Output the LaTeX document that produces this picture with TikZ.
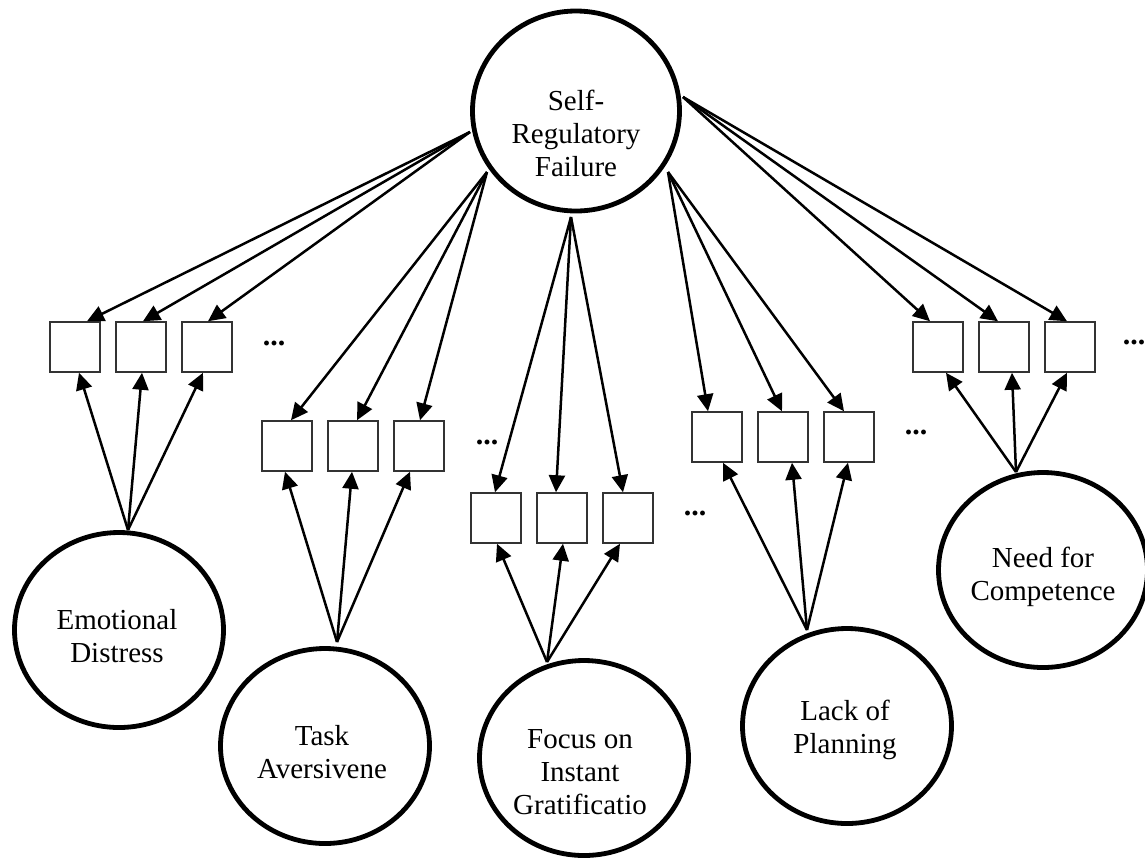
\documentclass[tikz,border=0pt]{standalone}
\usepackage{fontspec}
\setmainfont{Liberation Serif}
\usetikzlibrary{arrows.meta,shapes.geometric,calc}
\begin{document}
\begin{tikzpicture}[x=0.5pt,y=-0.5pt,
  latent/.style={draw, ellipse, line width=2.4pt, inner sep=0pt, minimum width=104.5pt, minimum height=97.5pt},
  indic/.style={draw=black!80, line width=0.75pt, minimum width=25pt, minimum height=25pt, inner sep=0pt, fill=white},
  lbl/.style={align=center, font=\fontsize{14.5pt}{16.5pt}\selectfont, inner sep=0pt},
  more/.style={font=\fontsize{15pt}{15pt}\selectfont\bfseries, inner sep=0pt},
  load/.style={-{Triangle[length=8.5pt,width=8pt]}, line width=1.25pt}
]
\useasboundingbox (0,0) rectangle (1145,858);

% latent variables
\node[latent, minimum width=103.5pt, minimum height=100pt] (srf) at (576,111) {};
\node[lbl] (srft) at (576,133) {Self-\\Regulatory\\Failure};

\node[latent] (emo) at (119,630) {};
\node[lbl] (emot) at (117,636) {Emotional\\Distress};

\node[latent] (task) at (325,746) {};
\node[lbl] (taskt) at (322,752) {Task\\Aversivene};

\node[latent] (foc) at (584,758) {};
\node[lbl] (foct) at (580,772) {Focus on\\Instant\\Gratificatio};

\node[latent] (lack) at (847,726) {};
\node[lbl] (lackt) at (845,730) {Lack of\\Planning};

\node[latent] (need) at (1043,570) {};
\node[lbl] (needt) at (1043,577) {Need for\\Competence};

% indicators
\node[indic] (e1) at (75,347) {};
\node[indic] (e2) at (141,347) {};
\node[indic] (e3) at (207,347) {};
\node[more] (ed) at (274,343) {...};

\node[indic] (t1) at (287,446) {};
\node[indic] (t2) at (353,446) {};
\node[indic] (t3) at (419,446) {};
\node[more] (td) at (487,442) {...};

\node[indic] (f1) at (496,518) {};
\node[indic] (f2) at (562,518) {};
\node[indic] (f3) at (628,518) {};
\node[more] (fd) at (695,513) {...};

\node[indic] (l1) at (717,437) {};
\node[indic] (l2) at (783,437) {};
\node[indic] (l3) at (849,437) {};
\node[more] (ld) at (916,432) {...};

\node[indic] (n1) at (938,347) {};
\node[indic] (n2) at (1004,347) {};
\node[indic] (n3) at (1070,347) {};
\node[more] (nd) at (1134,342) {...};

% source points on the higher-order factor
\coordinate (sE) at (470,132);
\coordinate (sT) at (487,172);
\coordinate (sF) at (571,217);
\coordinate (sL) at (668,172);
\coordinate (sN) at (683,97);

% source points on the first-order factors
\coordinate (pE) at (128,530);
\coordinate (pT) at (337,642);
\coordinate (pF) at (547,662);
\coordinate (pL) at (807,630);
\coordinate (pN) at (1016,472);

% loadings of the higher-order factor
\foreach \b/\dx in {e1/12,e2/2,e3/1} \draw[load] (sE) -- ($(\b.north)+(\dx,0)$);
\foreach \b/\dx in {t1/4,t2/4,t3/1} \draw[load] (sT) -- ($(\b.north)+(\dx,0)$);
\foreach \b/\dx in {f1/-1,f2/-6,f3/-5} \draw[load] (sF) -- ($(\b.north)+(\dx,0)$);
\foreach \b/\dx in {l1/-9,l2/-1,l3/-5} \draw[load] (sL) -- ($(\b.north)+(\dx,0)$);
\foreach \b/\dx in {n1/-8,n2/-6,n3/-3} \draw[load] (sN) -- ($(\b.north)+(\dx,0)$);

% loadings of the first-order factors
\foreach \b/\dx in {e1/4,e2/1,e3/-4} \draw[load] (pE) -- ($(\b.south)+(\dx,0)$);
\foreach \b/\dx in {t1/-2,t2/-1,t3/-9} \draw[load] (pT) -- ($(\b.south)+(\dx,0)$);
\foreach \b/\dx in {f1/1,f2/1,f3/-8} \draw[load] (pF) -- ($(\b.south)+(\dx,0)$);
\foreach \b/\dx in {l1/6,l2/9,l3/-1} \draw[load] (pL) -- ($(\b.south)+(\dx,0)$);
\foreach \b/\dx in {n1/8,n2/8,n3/-3} \draw[load] (pN) -- ($(\b.south)+(\dx,0)$);
\end{tikzpicture}
\end{document}
